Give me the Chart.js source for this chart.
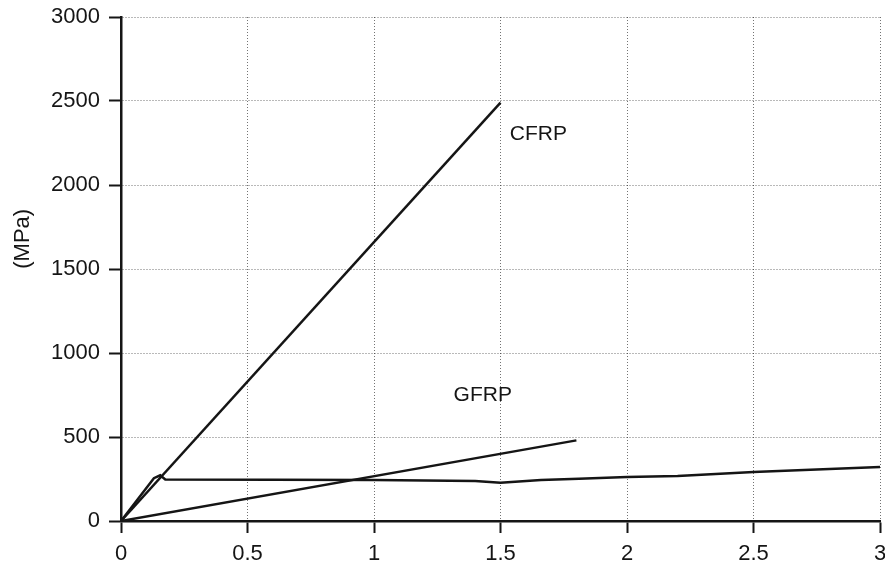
<!DOCTYPE html>
<html>
<head>
<meta charset="utf-8">
<script src="https://cdn.jsdelivr.net/npm/chart.js@4.4.0/dist/chart.umd.min.js"></script>
<style>
  html, body { margin: 0; padding: 0; background: #fff; }
</style>
</head>
<body>
<canvas id="chart" width="885" height="568"></canvas>
<script>
// strain (%) / stress (MPa)
const cfrpStrain = [0, 1.5];
const cfrpStress = [0, 2490];
const gfrpStrain = [0, 1.8];
const gfrpStress = [0, 480];
const steelStrain = [0, 0.13, 0.155, 0.175, 0.6, 1.0, 1.4, 1.5, 1.66, 1.81, 2.0, 2.2, 2.5, 3.0];
const steelStress = [0, 255, 272, 247, 246, 244, 238, 228, 244, 252, 262, 268, 292, 321];

const xTicks = [0, 0.5, 1, 1.5, 2, 2.5, 3];
const yTicks = [0, 500, 1000, 1500, 2000, 2500, 3000];

const curveLabels = ['CFRP', 'GFRP'];
const labelStrain = [1.65, 1.43];
const labelStress = [2300, 750];
const yTitle = '(MPa)';

const FONT = '"Liberation Sans", Arial, Helvetica, sans-serif';
const INK = '#151515';

const toPoints = (xs, ys) => xs.map((v, i) => ({x: v, y: ys[i]}));

const lineStyle = {
  showLine: true,
  pointRadius: 0,
  borderColor: INK,
  borderWidth: 2.5,
  tension: 0,
  fill: false
};

// curve names and the y axis title
const textPlugin = {
  id: 'curveText',
  afterDatasetsDraw(chart) {
    const {ctx, scales: {x, y}} = chart;
    ctx.save();
    ctx.font = '21px ' + FONT;
    ctx.fillStyle = INK;
    ctx.textAlign = 'center';
    ctx.textBaseline = 'middle';
    curveLabels.forEach((t, i) => {
      ctx.fillText(t, x.getPixelForValue(labelStrain[i]), y.getPixelForValue(labelStress[i]));
    });
    ctx.font = '22px ' + FONT;
    ctx.translate(23, y.getPixelForValue(1680));
    ctx.rotate(-Math.PI / 2);
    ctx.fillText(yTitle, 0, 0);
    ctx.restore();
  }
};

const gridOpts = {
  color: 'rgba(0,0,0,0.55)',
  lineWidth: 1,
  tickColor: INK,
  tickWidth: 2,
  tickLength: 12,
  tickBorderDash: []
};

new Chart(document.getElementById('chart').getContext('2d'), {
  type: 'scatter',
  data: {
    datasets: [
      {label: 'CFRP', data: toPoints(cfrpStrain, cfrpStress), ...lineStyle},
      {label: 'GFRP', data: toPoints(gfrpStrain, gfrpStress), ...lineStyle},
      {label: 'Steel', data: toPoints(steelStrain, steelStress), ...lineStyle}
    ]
  },
  options: {
    responsive: false,
    animation: false,
    layout: {padding: {top: 17, right: 0, left: 0, bottom: 0}},
    plugins: {legend: {display: false}, tooltip: {enabled: false}},
    scales: {
      x: {
        type: 'linear',
        min: 0,
        max: 3,
        afterBuildTicks: s => { s.ticks = xTicks.map(v => ({value: v})); },
        afterFit: s => { s.height = 47; s.paddingRight = 5; },
        grid: gridOpts,
        border: {display: true, color: INK, width: 2.5, dash: [1, 2]},
        ticks: {
          color: INK,
          padding: 8,
          maxRotation: 0,
          font: {family: FONT, size: 22},
          callback: v => String(v)
        }
      },
      y: {
        type: 'linear',
        min: 0,
        max: 3000,
        afterBuildTicks: s => { s.ticks = yTicks.map(v => ({value: v})); },
        afterFit: s => { s.width = 121; s.paddingTop = 0; },
        grid: gridOpts,
        border: {display: true, color: INK, width: 2.5, dash: [1, 2]},
        ticks: {
          color: INK,
          padding: 9,
          font: {family: FONT, size: 22},
          callback: v => String(v)
        }
      }
    }
  },
  plugins: [textPlugin]
});
</script>
</body>
</html>
